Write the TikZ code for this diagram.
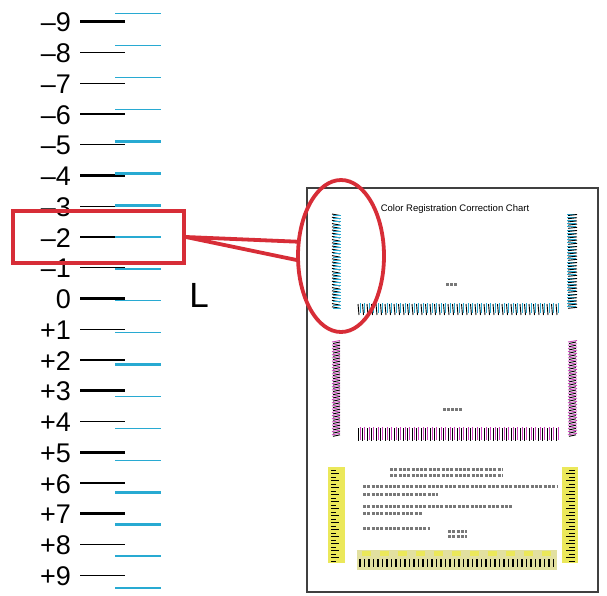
\documentclass[tikz,border=0pt]{standalone}
\usepackage{fontspec}
\setmainfont{Liberation Sans}
\usetikzlibrary{shapes.geometric}
\definecolor{regcyan}{RGB}{40,170,210}
\definecolor{regred}{RGB}{215,45,55}
\definecolor{regmagenta}{RGB}{205,70,190}
\definecolor{regyellow}{RGB}{235,232,90}
\definecolor{regband}{RGB}{226,224,160}
\definecolor{chartgray}{RGB}{120,120,120}

\begin{document}
\begin{tikzpicture}[
    x=1pt, y=-1pt,
    scalelabel/.style={anchor=base east, inner sep=0pt, font=\fontsize{27}{27}\selectfont},
    thinline/.style={line width=1.2pt},
    thickline/.style={line width=2.8pt},
    callout/.style={draw=regred, line width=3.8pt},
    tickmark/.style={line width=0.9pt},
    textrow/.style={chartgray, line width=3pt, dash pattern=on 3pt off 1.3pt}
]
\useasboundingbox (0,0) rectangle (607,595);

% scale
\foreach \n/\txt/\bw/\cw in {
    -9/\textendash9/thickline/thinline, -8/\textendash8/thinline/thinline,
    -7/\textendash7/thinline/thinline, -6/\textendash6/thinline/thinline,
    -5/\textendash5/thinline/thickline, -4/\textendash4/thickline/thickline,
    -3/\textendash3/thinline/thickline, -2/\textendash2/thickline/thickline,
    -1/\textendash1/thinline/thinline, 0/0/thickline/thinline,
    1/+1/thinline/thinline, 2/+2/thinline/thickline,
    3/+3/thickline/thinline, 4/+4/thinline/thinline,
    5/+5/thickline/thinline, 6/+6/thinline/thickline,
    7/+7/thickline/thickline, 8/+8/thinline/thinline,
    9/+9/thinline/thinline} {
  \pgfmathsetmacro{\yb}{237+30.75*(\n+2)}
  \pgfmathsetmacro{\yc}{237+31.9*(\n+2)}
  \node[scalelabel] (lab\n) at (71,\yb+10) {\txt};
  \draw[\bw] (80,\yb) -- (125,\yb);
  \draw[regcyan,\cw] (115,\yc) -- (161,\yc);
}
\node[inner sep=0pt, font=\fontsize{35}{35}\selectfont] (sidelabel) at (199,295) {L};

% chart page
\node[draw=black!75, line width=1.2pt, minimum width=291, minimum height=404, inner sep=0pt] (chart) at (452.5,390) {};
\node[font=\fontsize{9.5}{9.5}\selectfont, inner sep=0pt] (charttitle) at (455,209) {Color Registration Correction Chart};

% cyan block
\foreach \i in {0,...,29} {
  \draw[tickmark] (332,214+3.2*\i) -- (340,215.5+3.2*\i);
  \draw[tickmark, regcyan] (333,215.5+3.2*\i) -- (341,215.5+3.2*\i);
  \draw[tickmark, regcyan] (567,214+3.2*\i) -- (576,214+3.2*\i);
  \draw[tickmark] (568,215.5+3.2*\i) -- (577,214.5+3.2*\i);
}
\foreach \i in {0,...,44} {
  \draw[tickmark] (358+4.5*\i,304) -- (359+4.5*\i,315);
  \draw[tickmark, regcyan] (360+4.5*\i,303) -- (360+4.5*\i,313);
}
\foreach \i in {0,1,2}
  \fill[chartgray] (446+4*\i,283) rectangle ++(2.5,3);

% magenta block
\foreach \i in {0,...,29} {
  \draw[tickmark, regmagenta] (332,342+3.2*\i) -- (340,340.5+3.2*\i);
  \draw[tickmark] (333,343.5+3.2*\i) -- (340,342+3.2*\i);
  \draw[tickmark, regmagenta] (568,342+3.2*\i) -- (577,340.5+3.2*\i);
  \draw[tickmark] (569,343.5+3.2*\i) -- (576,342+3.2*\i);
}
\foreach \i in {0,...,44} {
  \draw[tickmark] (358+4.5*\i,428) -- (358+4.5*\i,441);
  \draw[tickmark, regmagenta] (360+4.5*\i,427) -- (360+4.5*\i,440);
}
\foreach \i in {0,...,4}
  \fill[chartgray] (443+4*\i,408) rectangle ++(2.5,3);

% yellow block
\fill[regyellow] (328,467) rectangle (345,563);
\fill[regyellow] (562,467) rectangle (578,563);
\fill[regband] (357,550) rectangle (557,570);
\foreach \i in {0,...,10}
  \fill[regyellow] (362+18*\i,551) rectangle ++(9,5);
\foreach \i in {0,...,26} {
  \pgfmathsetmacro{\tl}{3*mod(\i,2)}
  \draw[tickmark] (331,470+3.5*\i) -- (336+\tl,470+3.5*\i);
  \draw[tickmark] (569-\tl,470+3.5*\i) -- (575,470+3.5*\i);
}
\foreach \i in {0,...,43}
  \draw[line width=1.3pt] (360+4.5*\i,559) -- (360+4.5*\i,567);
\draw[textrow] (390,469) -- (502,469);
\draw[textrow] (390,475) -- (502,475);
\draw[textrow] (363,486) -- (557,486);
\draw[textrow] (363,494) -- (438,494);
\draw[textrow] (363,506) -- (513,506);
\draw[textrow] (363,513) -- (422,513);
\draw[textrow] (363,528) -- (430,528);
\draw[textrow] (448,531) -- (467,531);
\draw[textrow] (448,536) -- (467,536);

% callout
\node[callout, minimum width=171, minimum height=52, inner sep=0pt] (zoombox) at (98.5,237) {};
\node[callout, ellipse, minimum width=86, minimum height=152, inner sep=0pt] (zoomring) at (341,256) {};
\draw[callout] (zoombox.east) -- (zoomring.162);
\draw[callout] (zoombox.east) -- (zoomring.185);
\end{tikzpicture}
\end{document}
